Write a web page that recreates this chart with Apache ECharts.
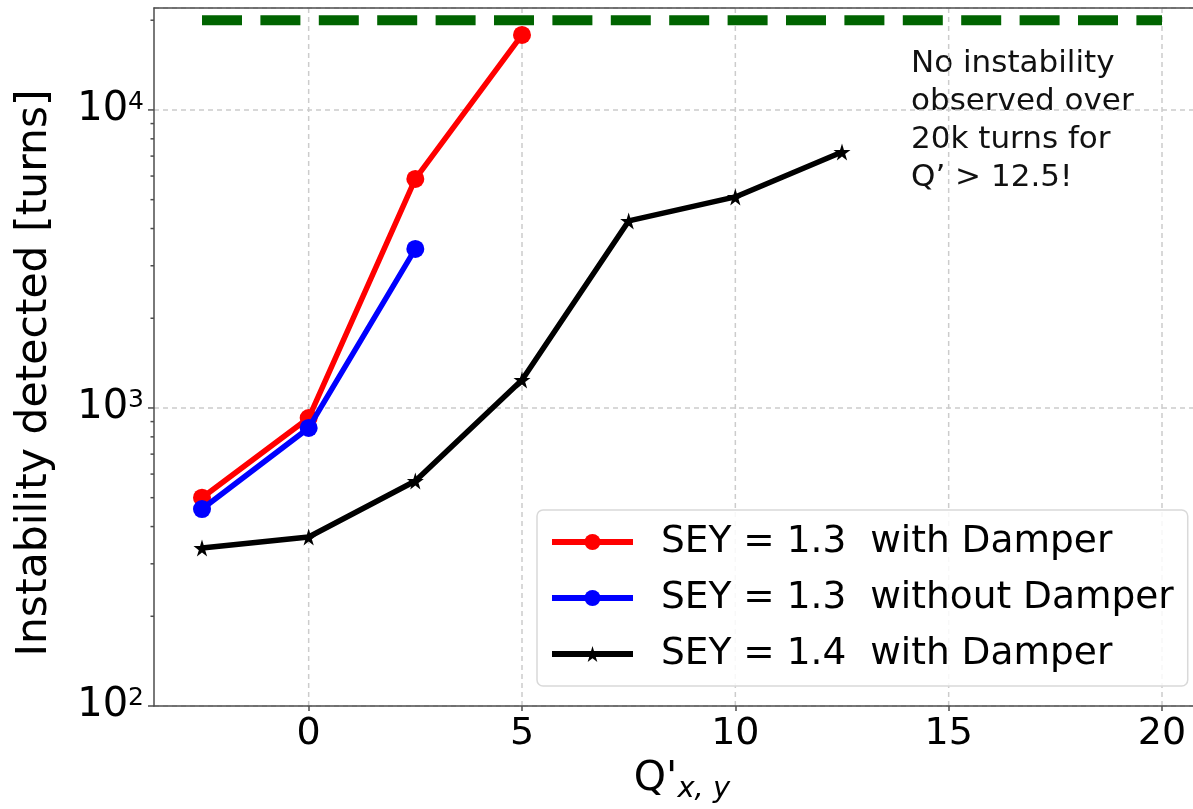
<!DOCTYPE html>
<html>
<head>
<meta charset="utf-8">
<script src="https://cdn.jsdelivr.net/npm/echarts@6/dist/echarts.min.js"></script>
<style>
  html, body { margin: 0; padding: 0; background: #fff; }
  #chart { width: 1193px; height: 809px; }
</style>
</head>
<body>
<div id="chart"></div>
<script>
// Chromaticity scan: turns until the instability is detected
const chromaticity = [-2.5, 0, 2.5, 5, 7.5, 10, 12.5];
const sey13Damper = [500, 925, 5870, 17850];
const sey13NoDamper = [458, 857, 3417];
const sey14Damper = [339, 369, 569, 1242, 4242, 5106, 7227];

// Simulation length (20k turns) drawn as a dashed reference line
const limitX = [-2.5, 20];
const limitTurns = [20000, 20000];

const seriesNames = [
  'SEY = 1.3  with Damper',
  'SEY = 1.3  without Damper',
  'SEY = 1.4  with Damper'
];
const noteLines = ['No instability', 'observed over', '20k turns for', 'Q’ > 12.5!'];

// Vertical grid positions and log-axis ticks on the left spine
const xGridValues = [0, 5, 10, 15, 20];
const majorTickValues = [100, 1000, 10000];
const minorTickValues = [200, 300, 400, 500, 600, 700, 800, 900,
                         2000, 3000, 4000, 5000, 6000, 7000, 8000, 9000, 20000];

const xMin = -3.625, xMax = 21.125;
const yMin = 100, yMax = 21980;

const FONT = 'DejaVu Sans';
const AXIS_COLOR = '#4d4d4d';
const GRID_COLOR = '#cccccc';

function pairs(xs, ys) {
  return ys.map((y, i) => [xs[i], y]);
}

const starPath = 'path://M50,0 L61,35 L98,35 L68,57 L79,91 L50,70 L21,91 L32,57 L2,35 L39,35 Z';

const chart = echarts.init(document.getElementById('chart'), null, { renderer: 'canvas' });

const tickData = majorTickValues.map(v => [xMin, v, 6])
  .concat(minorTickValues.map(v => [xMin, v, 3.5]));

const option = {
  animation: false,
  backgroundColor: '#ffffff',
  textStyle: { fontFamily: FONT, color: '#000' },
  grid: {
    // the plot area runs past the right edge of the canvas
    left: 154, right: -17, top: 8, bottom: 103,
    outerBoundsMode: 'none',
    containLabel: false,
    show: false
  },
  legend: {
    data: seriesNames,
    orient: 'vertical',
    left: 537, top: 510,
    padding: [10, 14, 10, 12],
    itemGap: 12,
    itemWidth: 81,
    itemHeight: 20,
    lineStyle: { width: 6 },
    backgroundColor: 'rgba(255,255,255,0.85)',
    borderColor: '#d9d9d9', borderWidth: 1.5, borderRadius: 6,
    textStyle: { fontFamily: FONT, fontSize: 37.5, color: '#000', lineHeight: 44, padding: [0, 0, 0, 23] }
  },
  xAxis: [{
    type: 'value',
    position: 'bottom',
    min: xMin, max: xMax,
    minInterval: 5, maxInterval: 5,
    axisLine: { show: true, onZero: false, lineStyle: { color: AXIS_COLOR, width: 1.5 } },
    axisTick: { show: true, length: 5, lineStyle: { color: AXIS_COLOR, width: 1.5 } },
    axisLabel: {
      fontFamily: FONT, fontSize: 38, color: '#000', margin: 9,
      showMinLabel: false, showMaxLabel: false,
      formatter: v => (Math.abs(v % 5) < 1e-9 ? String(v) : '')
    },
    splitLine: { show: false },
    name: '{q|Q\'}{s|x, y}',
    nameLocation: 'middle',
    nameGap: 48,
    nameTextStyle: {
      rich: {
        q: { fontFamily: FONT, fontSize: 41, color: '#000', lineHeight: 50 },
        s: { fontFamily: FONT, fontSize: 29, fontStyle: 'italic', color: '#000', lineHeight: 50, verticalAlign: 'bottom' }
      }
    }
  }, {
    // top spine
    type: 'value',
    position: 'top',
    min: xMin, max: xMax,
    axisLine: { show: true, onZero: false, lineStyle: { color: AXIS_COLOR, width: 1.5 } },
    axisTick: { show: false },
    axisLabel: { show: false },
    splitLine: { show: false }
  }],
  yAxis: {
    type: 'log', logBase: 10,
    min: yMin, max: yMax,
    axisLine: { show: true, onZero: false, lineStyle: { color: AXIS_COLOR, width: 1.5 } },
    axisTick: { show: false },
    minorTick: { show: false },
    axisLabel: {
      margin: 10,
      formatter: v => {
        const e = Math.log10(v);
        if (Math.abs(e - Math.round(e)) > 1e-6) return '';
        return '{b|10}{s|' + Math.round(e) + '}';
      },
      rich: {
        b: { fontFamily: FONT, fontSize: 40, color: '#000' },
        s: { fontFamily: FONT, fontSize: 25, color: '#000', verticalAlign: 'top' }
      }
    },
    splitLine: { show: true, lineStyle: { color: GRID_COLOR, type: [5, 4], width: 1.5 } },
    name: 'Instability detected [turns]',
    nameLocation: 'middle',
    nameGap: 98,
    nameTextStyle: { fontFamily: FONT, fontSize: 42.5, color: '#000', padding: [0, 32, 0, 0] }
  },
  graphic: [{
    type: 'text',
    left: 911, top: 45,
    style: {
      text: noteLines.join('\n'),
      fontFamily: FONT, fontSize: 31, lineHeight: 38,
      fill: '#111'
    }
  }],
  series: [
    {
      // vertical grid lines at the labelled x ticks
      type: 'custom',
      silent: true,
      z: 0,
      data: xGridValues.map(v => [v]),
      renderItem: (params, api) => {
        const v = api.value(0);
        const p0 = api.coord([v, yMin]);
        const p1 = api.coord([v, yMax]);
        return {
          type: 'line',
          shape: { x1: p0[0], y1: p0[1], x2: p1[0], y2: p1[1] },
          style: { stroke: GRID_COLOR, lineWidth: 1.5, lineDash: [5, 4] }
        };
      }
    },
    {
      // major and minor ticks of the log axis
      type: 'custom',
      silent: true,
      clip: false,
      z: 6,
      data: tickData,
      renderItem: (params, api) => {
        const p = api.coord([api.value(0), api.value(1)]);
        const len = api.value(2);
        return {
          type: 'line',
          shape: { x1: p[0] - len, y1: p[1], x2: p[0], y2: p[1] },
          style: { stroke: AXIS_COLOR, lineWidth: 1.5 }
        };
      }
    },
    {
      type: 'line',
      data: pairs(limitX, limitTurns),
      symbol: 'none',
      silent: true,
      lineStyle: { color: '#006400', width: 10, type: [40, 18.4], cap: 'butt' },
      z: 2
    },
    {
      name: seriesNames[0],
      type: 'line',
      data: pairs(chromaticity, sey13Damper),
      symbol: 'circle', symbolSize: 18,
      lineStyle: { color: '#ff0000', width: 5.5 },
      itemStyle: { color: '#ff0000' },
      z: 3
    },
    {
      name: seriesNames[1],
      type: 'line',
      data: pairs(chromaticity, sey13NoDamper),
      symbol: 'circle', symbolSize: 18,
      lineStyle: { color: '#0000ff', width: 5.5 },
      itemStyle: { color: '#0000ff' },
      z: 4
    },
    {
      name: seriesNames[2],
      type: 'line',
      data: pairs(chromaticity, sey14Damper),
      symbol: starPath, symbolSize: 17,
      lineStyle: { color: '#000000', width: 5.5 },
      itemStyle: { color: '#000000' },
      z: 5
    }
  ]
};

chart.setOption(option);
</script>
</body>
</html>
